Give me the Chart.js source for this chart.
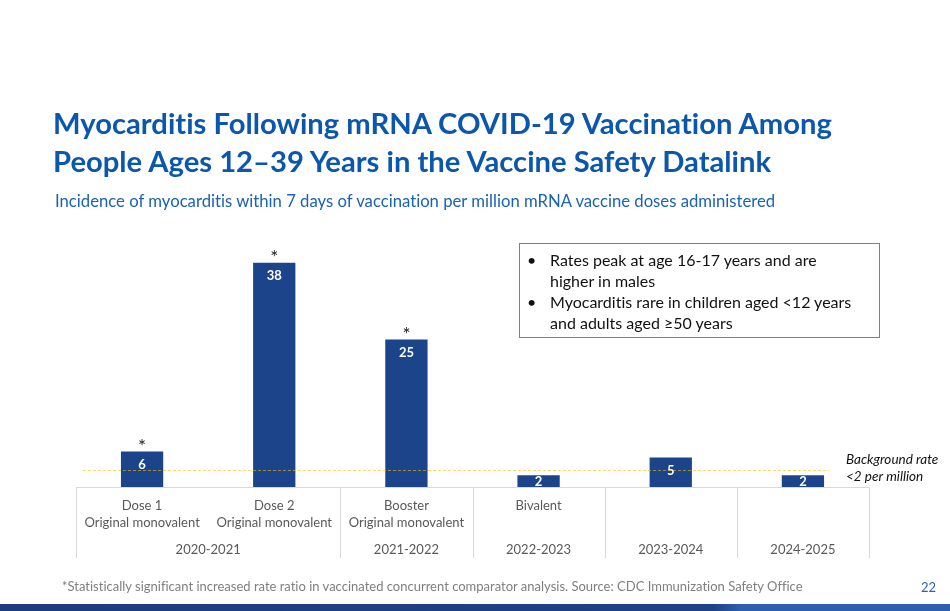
<!DOCTYPE html>
<html>
<head>
<meta charset="utf-8">
<script src="https://cdn.jsdelivr.net/npm/chart.js@4/dist/chart.umd.min.js"></script>
<style>
  body { margin: 0; background: #fff; font-family: Lato, "Open Sans", sans-serif; font-variant-ligatures: none; }
  #page { position: relative; width: 950px; height: 611px; overflow: hidden; }
  #chart { position: absolute; left: 0; top: 0; }
  .title { position: absolute; left: 53px; color: #0b57ad; font-weight: bold; font-size: 29.2px; white-space: nowrap; }
  .sub { position: absolute; left: 55px; top: 191px; color: #1a62b5; font-size: 16.7px; white-space: nowrap; }
  #note { position: absolute; left: 519px; top: 243px; width: 361px; height: 95px; box-sizing: border-box; border: 1px solid #7f7f7f; font-size: 16px; color: #111; }
  #note .b { position: relative; padding-left: 30px; line-height: 21px; }
  #note .b::before { content: "•"; position: absolute; left: 7px; top: 0; }
  .foot { position: absolute; left: 62px; top: 578px; font-size: 13px; color: #7f7f7f; white-space: nowrap; }
  .pnum { position: absolute; left: 921px; top: 579px; font-size: 13px; color: #2a62ad; }
  .band { position: absolute; left: 0; top: 604px; width: 950px; height: 7px; background: linear-gradient(90deg, #1d3c7e 0%, #1f4185 75%, #2d5fae 78%, #2d5fae 100%); }
</style>
</head>
<body>
<div id="page">
  <canvas id="chart" width="950" height="611"></canvas>
  <div class="title" style="top:105px">Myocarditis Following mRNA COVID-19 Vaccination Among</div>
  <div class="title" style="top:143px">People Ages 12–39 Years in the Vaccine Safety Datalink</div>
  <div class="sub">Incidence of myocarditis within 7 days of vaccination per million mRNA vaccine doses administered</div>
  <div id="note">
    <div class="b" style="margin-top:5px">Rates peak at age 16-17 years and are<br>higher in males</div>
    <div class="b">Myocarditis rare in children aged &lt;12 years<br>and adults aged ≥50 years</div>
  </div>
  <div class="foot">*Statistically significant increased rate ratio in vaccinated concurrent comparator analysis. Source: CDC Immunization Safety Office</div>
  <div class="pnum">22</div>
  <div class="band"></div>
</div>
<script>
// data
const doseLabels = [
  ["Dose 1", "Original monovalent"],
  ["Dose 2", "Original monovalent"],
  ["Booster", "Original monovalent"],
  ["Bivalent", ""],
  ["", ""],
  ["", ""]
];
const seasonLabels = ["2020-2021", "2021-2022", "2022-2023", "2023-2024", "2024-2025"];
const seasonSpans = [2, 1, 1, 1, 1];
const rates = [6, 38, 25, 2, 5, 2];
const significant = [true, true, true, false, false, false];
const backgroundLine = 2.8;
const backgroundText = ["Background rate", "<2 per million"];

const barColor = "#1b448b";
const gridColor = "#d9d9d9";
const fontFamily = "Lato, 'Open Sans', sans-serif";

// extras: season table, asterisks, value labels, background line
const overlay = {
  id: "overlay",
  afterDatasetsDraw(chart) {
    const ctx = chart.ctx;
    const x = chart.scales.x, y = chart.scales.y;
    const area = chart.chartArea;
    const meta = chart.getDatasetMeta(0);
    const step = x.getPixelForValue(1) - x.getPixelForValue(0);
    const base = y.getPixelForValue(0);

    ctx.save();
    // value labels inside bars
    ctx.font = "bold 13px " + fontFamily;
    ctx.fillStyle = "#ffffff";
    ctx.textAlign = "center";
    ctx.textBaseline = "middle";
    meta.data.forEach((bar, i) => {
      const ly = Math.min(bar.y + 13, (bar.y + base) / 2 + 1);
      ctx.fillText(String(rates[i]), bar.x, ly);
    });

    // asterisks
    ctx.font = "19px " + fontFamily;
    ctx.fillStyle = "#222";
    meta.data.forEach((bar, i) => {
      if (significant[i]) ctx.fillText("*", bar.x, bar.y - 5);
    });

    // background rate dashed line
    const by = y.getPixelForValue(backgroundLine);
    ctx.strokeStyle = "rgba(255, 192, 0, 0.6)";
    ctx.lineWidth = 1;
    ctx.setLineDash([3, 2]);
    ctx.beginPath();
    ctx.moveTo(area.left + 7, by);
    ctx.lineTo(area.right - 40, by);
    ctx.stroke();
    ctx.setLineDash([]);

    ctx.font = "italic 13.5px " + fontFamily;
    ctx.fillStyle = "#111";
    ctx.textAlign = "left";
    ctx.fillText(backgroundText[0], area.right - 23, by - 11);
    ctx.fillText(backgroundText[1], area.right - 23, by + 6);

    // season table
    ctx.strokeStyle = gridColor;
    ctx.lineWidth = 1;
    const tableBottom = base + 71;
    ctx.beginPath();
    ctx.moveTo(area.left, base + 0.5);
    ctx.lineTo(area.right, base + 0.5);
    ctx.stroke();
    let idx = 0;
    const edges = [0];
    seasonSpans.forEach(s => { idx += s; edges.push(idx); });
    edges.forEach(e => {
      const px = Math.round(x.getPixelForValue(e) - step / 2) + 0.5;
      ctx.beginPath();
      ctx.moveTo(px, base);
      ctx.lineTo(px, tableBottom);
      ctx.stroke();
    });
    ctx.font = "13px " + fontFamily;
    ctx.fillStyle = "#595959";
    ctx.textAlign = "center";
    seasonLabels.forEach((lab, i) => {
      const cx = (x.getPixelForValue(edges[i]) + x.getPixelForValue(edges[i + 1])) / 2 - step / 2;
      ctx.fillText(lab, cx, base + 63);
    });
    ctx.restore();
  }
};

new Chart(document.getElementById("chart"), {
  type: "bar",
  data: {
    labels: doseLabels,
    datasets: [{
      data: rates,
      backgroundColor: barColor,
      categoryPercentage: 1,
      barPercentage: 0.32
    }]
  },
  options: {
    responsive: false,
    animation: false,
    layout: { padding: { left: 76, right: 81, top: 251, bottom: 0 } },
    plugins: { legend: { display: false }, tooltip: { enabled: false } },
    scales: {
      x: {
        grid: { display: false },
        border: { display: false },
        ticks: {
          color: "#595959",
          font: { family: fontFamily, size: 13, lineHeight: 1.3 },
          padding: 2,
          maxRotation: 0,
          autoSkip: false
        },
        afterFit: s => { s.height = 124; }
      },
      y: {
        display: false,
        min: 0,
        max: 40
      }
    }
  },
  plugins: [overlay]
});
</script>
</body>
</html>
